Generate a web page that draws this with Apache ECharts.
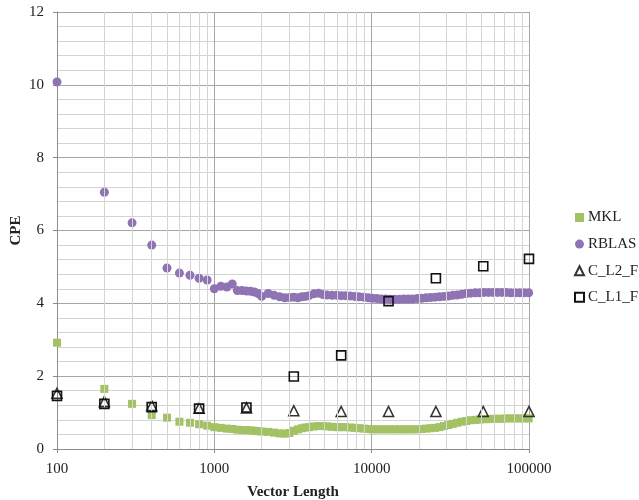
<!DOCTYPE html>
<html>
<head>
<meta charset="utf-8">
<script src="https://cdn.jsdelivr.net/npm/echarts@6/dist/echarts.min.js"></script>
<style>html,body{margin:0;padding:0;background:#fff;}#c{width:639px;height:500px;}</style>
</head>
<body>
<div id="c"></div>
<script>
// Vector lengths (shared by MKL and RBLAS)
var vecLen = [100,200,300,400,500,600,700,800,900,1000,1100,1200,1300,1400,1500,1600,1700,1800,1900,2000,
  2200,2400,2600,2800,3000,3200,3400,3600,3800,4000,
  4300,4600,4900,5200,5600,6000,6400,6800,7300,7800,8300,8900,9500,
  10100,10800,11500,12300,13100,14000,15000,16000,17100,18200,19500,
  20800,22200,23700,25300,27000,28800,30700,32800,35000,37400,39900,
  42600,45500,48500,51800,55300,59000,63000,67200,71800,76600,81800,87300,93200,99500];
var mkl = [2.92,1.65,1.24,0.93,0.86,0.75,0.72,0.68,0.64,0.60,0.58,0.56,0.55,0.53,0.52,0.52,0.51,0.50,0.49,0.48,
  0.47,0.45,0.43,0.42,0.44,0.50,0.54,0.57,0.59,0.60,
  0.62,0.63,0.63,0.62,0.61,0.60,0.60,0.60,0.59,0.58,0.57,0.56,0.55,
  0.54,0.54,0.54,0.54,0.54,0.54,0.54,0.54,0.54,0.54,0.54,
  0.55,0.56,0.57,0.58,0.60,0.63,0.66,0.69,0.72,0.75,0.77,
  0.79,0.80,0.81,0.82,0.82,0.83,0.83,0.83,0.84,0.84,0.84,0.84,0.84,0.84];
var rblas = [10.08,7.05,6.21,5.60,4.97,4.83,4.77,4.69,4.64,4.40,4.47,4.45,4.53,4.35,4.35,4.34,4.33,4.31,4.27,4.19,
  4.27,4.22,4.18,4.15,4.16,4.17,4.15,4.18,4.19,4.21,
  4.26,4.28,4.24,4.23,4.22,4.22,4.21,4.21,4.20,4.19,4.18,4.17,4.15,
  4.14,4.13,4.12,4.12,4.11,4.11,4.11,4.12,4.12,4.12,4.13,
  4.14,4.15,4.16,4.17,4.18,4.19,4.20,4.22,4.23,4.25,4.27,
  4.28,4.29,4.29,4.30,4.30,4.30,4.30,4.30,4.30,4.29,4.29,4.29,4.29,4.29];
// Power-of-two vector lengths for C_L2_F / C_L1_F
var cLen = [100,200,400,800,1600,3200,6400,12800,25600,51200,100000];
var cL2F = [1.53,1.30,1.19,1.12,1.13,1.05,1.03,1.03,1.03,1.03,1.03];
var cL1F = [1.46,1.24,1.15,1.11,1.14,1.99,2.57,4.06,4.69,5.02,5.22];
// Minor log grid positions
var minorX = [200,300,400,500,600,700,800,900,2000,3000,4000,5000,6000,7000,8000,9000,
  20000,30000,40000,50000,60000,70000,80000,90000];
var seriesNames = ['MKL','RBLAS','C_L2_F','C_L1_F'];

function pairs(xs, ys){ return xs.map(function(x,i){ return [x, ys[i]]; }); }

var FONT = 'Liberation Serif';
var chart = echarts.init(document.getElementById('c'), null, {renderer:'canvas'});
chart.setOption({
  animation: false,
  backgroundColor: '#ffffff',
  textStyle: {fontFamily: FONT},
  grid: {left: 57, right: 110, top: 12, bottom: 51, containLabel: false, outerBoundsMode: 'none'},
  legend: {
    orient: 'vertical', left: 569, top: 205, padding: 5,
    itemWidth: 9, itemHeight: 9, itemGap: 11.6,
    data: seriesNames,
    textStyle: {fontFamily: FONT, fontSize: 15, color: '#222', padding: [0,0,0,-1]}
  },
  xAxis: {
    type: 'log', logBase: 10, min: 100, max: 100000,
    name: 'Vector Length', nameLocation: 'middle', nameGap: 36, nameMoveOverlap: false,
    nameTextStyle: {fontFamily: FONT, fontSize: 15, fontWeight: 'bold', color: '#222'},
    axisLine: {show: true, lineStyle: {color: '#8c8c8c', width: 1}},
    axisTick: {show: true, length: 4, lineStyle: {color: '#8c8c8c'}},
    axisLabel: {fontFamily: FONT, fontSize: 15, color: '#222', margin: 13,
      formatter: function(v){ return String(Math.round(v)); }},
    splitLine: {show: true, lineStyle: {color: '#a6a6a6', width: 1}},
    minorTick: {show: false},
    minorSplitLine: {show: false}
  },
  yAxis: {
    type: 'value', min: 0, max: 12, interval: 2,
    name: 'CPE', nameLocation: 'middle', nameGap: 33, nameRotate: 90, nameMoveOverlap: false,
    nameTextStyle: {fontFamily: FONT, fontSize: 15, fontWeight: 'bold', color: '#222'},
    axisLine: {show: true, lineStyle: {color: '#8c8c8c', width: 1}},
    axisTick: {show: true, length: 4, lineStyle: {color: '#8c8c8c'}},
    axisLabel: {fontFamily: FONT, fontSize: 15, color: '#222', margin: 13},
    splitLine: {show: true, lineStyle: {color: '#a6a6a6', width: 1}},
    minorTick: {show: false, splitNumber: 5},
    minorSplitLine: {show: true, lineStyle: {color: '#d4d4d4', width: 1}}
  },
  series: [
    {
      name: '_grid', type: 'scatter', data: [], silent: true, z: 0,
      markLine: {
        silent: true, symbol: ['none','none'], animation: false,
        label: {show: false},
        lineStyle: {color: '#d4d4d4', width: 1, type: 'solid'},
        emphasis: {disabled: true},
        data: minorX.map(function(v){ return {xAxis: v}; })
      }
    },
    {
      name: 'MKL', type: 'scatter', symbol: 'rect', symbolSize: 8, z: 2,
      itemStyle: {color: '#a3c264', opacity: 1},
      data: pairs(vecLen, mkl)
    },
    {
      name: 'RBLAS', type: 'scatter', symbol: 'circle', symbolSize: 9, z: 3,
      itemStyle: {color: '#8f73b4', opacity: 1},
      data: pairs(vecLen, rblas)
    },
    {
      name: 'C_L2_F', type: 'scatter', symbol: 'triangle', symbolSize: 10, z: 4,
      itemStyle: {color: 'rgba(255,255,255,0)', borderColor: '#333', borderWidth: 1.6, opacity: 1},
      data: pairs(cLen, cL2F)
    },
    {
      name: 'C_L1_F', type: 'scatter', symbol: 'rect', symbolSize: 9, z: 5,
      itemStyle: {color: 'rgba(255,255,255,0)', borderColor: '#111', borderWidth: 1.6, opacity: 1},
      data: pairs(cLen, cL1F)
    }
  ]
});
</script>
</body>
</html>
